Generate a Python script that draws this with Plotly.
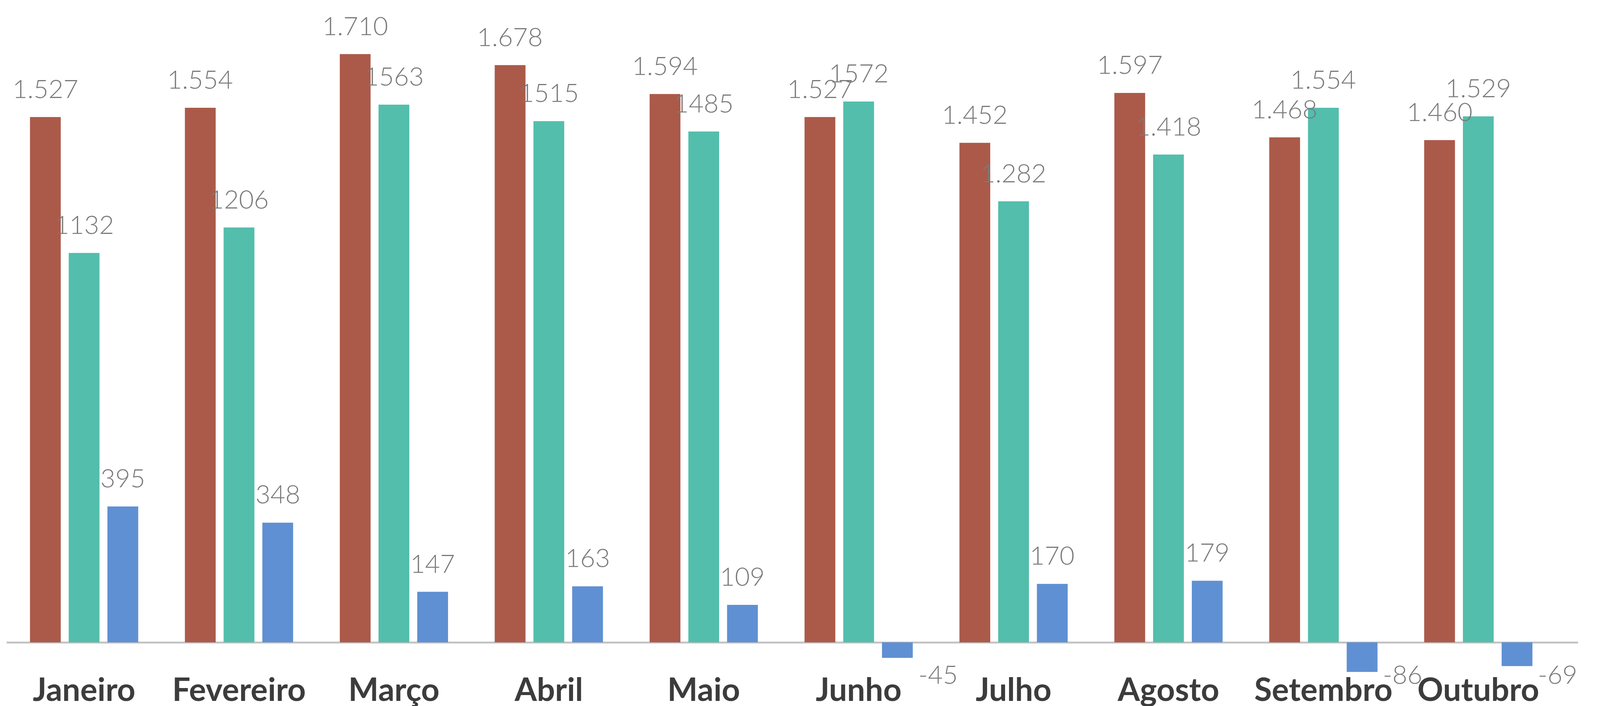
import plotly.graph_objects as go

months = ["Janeiro", "Fevereiro", "Março", "Abril", "Maio", "Junho",
          "Julho", "Agosto", "Setembro", "Outubro"]
serie_a = [1527, 1554, 1710, 1678, 1594, 1527, 1452, 1597, 1468, 1460]
serie_b = [1132, 1206, 1563, 1515, 1485, 1572, 1282, 1418, 1554, 1529]
serie_c = [395, 348, 147, 163, 109, -45, 170, 179, -86, -69]
labels_a = ["1.527", "1.554", "1.710", "1.678", "1.594", "1.527", "1.452", "1.597", "1.468", "1.460"]
labels_b = ["1132", "1206", "1563", "1515", "1485", "1572", "1.282", "1.418", "1.554", "1.529"]
labels_c = ["395", "348", "147", "163", "109", "-45", "170", "179", "-86", "-69"]

colors = ["#AB5A4A", "#53BEAC", "#5F90D3"]
H = 1808
BARGAP = 0.25
GROUPGAP = 0.205

fig = go.Figure()
for vals, col in zip([serie_a, serie_b, serie_c], colors):
    fig.add_trace(go.Bar(x=months, y=vals, marker=dict(color=col, line=dict(width=0)),
                         hoverinfo="skip", showlegend=False))

slot = (1 - BARGAP) / 3
half = slot * (1 - GROUPGAP) / 2
label_font = dict(family="Lato", size=66, color="#7a7a7a", weight=300)
annotations = []
for k, (vals, labs) in enumerate(zip([serie_a, serie_b, serie_c], [labels_a, labels_b, labels_c])):
    for i, (v, t) in enumerate(zip(vals, labs)):
        xc = i + (k - 1) * slot
        if v >= 0:
            annotations.append(dict(x=xc, y=v, xref="x", yref="y", text=t, showarrow=False,
                                    xanchor="center", yanchor="bottom", yshift=33,
                                    font=label_font))
        else:
            annotations.append(dict(x=xc + half, y=0, xref="x", yref="y", text=t, showarrow=False,
                                    xanchor="left", yanchor="middle", xshift=12, yshift=-80,
                                    font=label_font))

fig.update_layout(
    height=H, autosize=True,
    margin=dict(l=17, r=56, t=0, b=79, pad=0),
    paper_bgcolor="white", plot_bgcolor="white",
    barmode="group", bargap=BARGAP, bargroupgap=GROUPGAP,
    annotations=annotations,
    xaxis=dict(type="category", showgrid=False, showline=False, ticks="", tickangle=0,
               automargin=False, ticklabelstandoff=-17,
               tickfont=dict(family="Lato", size=82, color="#3c3c3c", weight="bold")),
    yaxis=dict(range=[-95.3, 1867.2], showgrid=False, showticklabels=False, ticks="",
               zeroline=True, zerolinecolor="#c4c4c4", zerolinewidth=5, automargin=False),
)

fit_window = """
document.body.style.margin='0';
document.body.style.overflow='hidden';
var gd=document.getElementById('{plot_id}');
Plotly.relayout(gd, {width: window.innerWidth, height: window.innerHeight});
"""
fig.write_html("out.html", post_script=fit_window, config={"displayModeBar": False})
